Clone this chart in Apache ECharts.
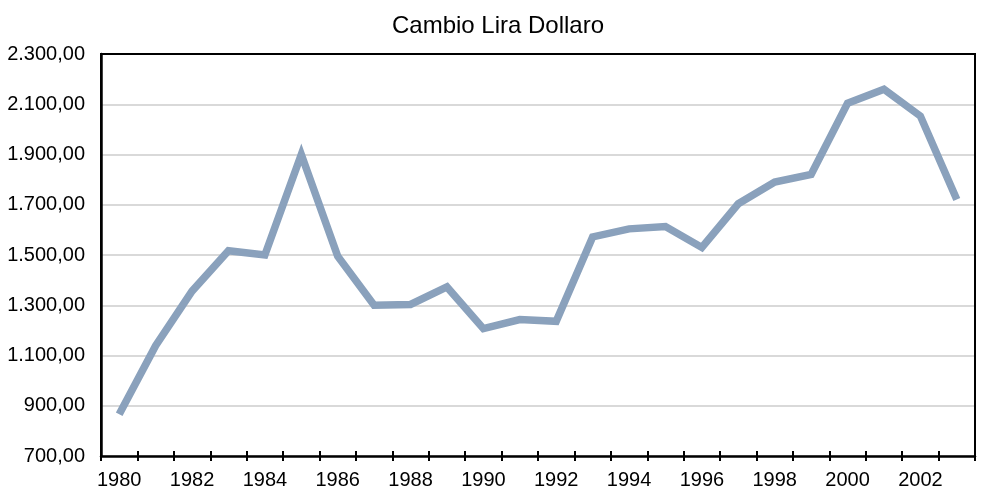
<!DOCTYPE html>
<html><head><meta charset="utf-8">
<script src="https://cdn.jsdelivr.net/npm/echarts@6/dist/echarts.min.js"></script>
<style>html,body{margin:0;padding:0;background:#fff}#c{width:996px;height:500px}</style>
</head><body><div id="c"></div>
<script>
const years = ['1980','1981','1982','1983','1984','1985','1986','1987','1988','1989','1990','1991','1992','1993','1994','1995','1996','1997','1998','1999','2000','2001','2002','2003'];
const cambio = [866,1139,1356,1517,1500,1900,1495,1300,1303,1373,1207,1243,1236,1572,1604,1613,1530,1704,1790,1821,2104,2160,2053,1721];
const titleText = 'Cambio Lira Dollaro';

function fmt(v){
  const s = Math.round(v).toString();
  return s.replace(/\B(?=(\d{3})+(?!\d))/g, '.') + ',00';
}
const font = 'Liberation Sans, Arial, Helvetica, sans-serif';
const chart = echarts.init(document.getElementById('c'), null, {renderer:'canvas'});
chart.setOption({
  animation:false,
  backgroundColor:'#fff',
  title:{text:titleText,left:'center',top:9,textStyle:{fontFamily:font,fontSize:24,fontWeight:'normal',color:'#000'}},
  grid:{left:101,right:21,top:54,bottom:44,show:true,borderColor:'#000',borderWidth:2,containLabel:false},
  xAxis:[{
    type:'category',data:years,boundaryGap:true,
    axisLine:{lineStyle:{color:'#000',width:2.5}},
    axisTick:{show:true,interval:0,length:5,lineStyle:{color:'#000',width:2}},
    axisLabel:{interval:1,margin:14,fontFamily:font,fontSize:20,color:'#000'},
    splitLine:{show:false}
  },{
    type:'category',data:years,boundaryGap:true,position:'bottom',
    axisLine:{show:false},
    axisTick:{show:true,inside:true,interval:0,length:5,lineStyle:{color:'#000',width:2}},
    axisLabel:{show:false},splitLine:{show:false}
  },{
    type:'category',data:years,boundaryGap:true,position:'top',
    axisLine:{show:true,lineStyle:{color:'#000',width:2}},
    axisTick:{show:false},axisLabel:{show:false},splitLine:{show:false}
  }],
  yAxis:[{
    type:'value',min:700,max:2300,interval:200,
    axisLine:{show:true,lineStyle:{color:'#000',width:2.5}},
    axisTick:{show:false},
    axisLabel:{margin:16,fontFamily:font,fontSize:20,color:'#000',formatter:fmt},
    splitLine:{lineStyle:{color:'#d9d9d9',width:2}}
  },{
    type:'value',min:700,max:2300,interval:200,position:'right',
    axisLine:{show:true,lineStyle:{color:'#000',width:2}},
    axisTick:{show:false},axisLabel:{show:false},splitLine:{show:false}
  }],
  series:[{
    type:'line',data:cambio,showSymbol:false,symbol:'none',
    xAxisIndex:0,yAxisIndex:0,
    lineStyle:{color:'#8aa1bc',width:7.5,cap:'butt',join:'miter'},
    z:5
  }]
});
</script></body></html>
